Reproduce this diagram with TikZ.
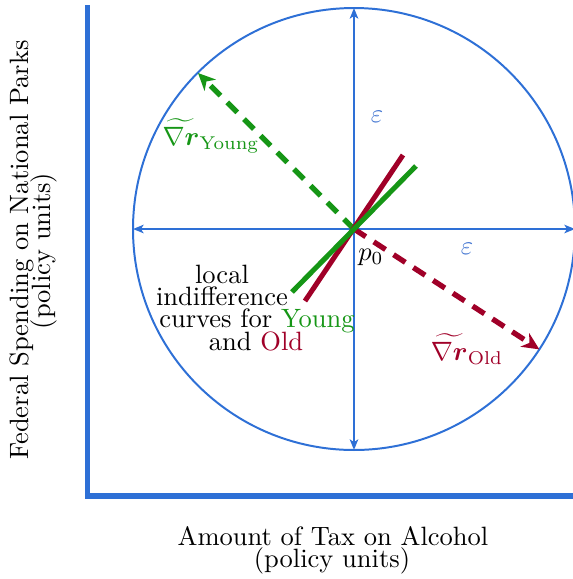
\documentclass[tikz,border=0pt]{standalone}
\usepackage{amsmath,bm}
\usetikzlibrary{arrows.meta}
\definecolor{axblue}{RGB}{46,112,214}
\definecolor{epsblue}{RGB}{70,120,210}
\definecolor{ygreen}{RGB}{22,150,22}
\definecolor{ored}{RGB}{160,0,40}
\tikzset{
  axisline/.style={axblue, line width=1.9pt},
  ballline/.style={axblue, line width=0.75pt},
  epsarrow/.style={axblue, line width=0.7pt, {Stealth[length=4pt,width=3.2pt,inset=1pt]}-{Stealth[length=4pt,width=3.2pt,inset=1pt]}},
  gradarrow/.style={line width=2pt, dash pattern=on 5.3pt off 3.6pt, -{Stealth[length=6.5pt,width=6pt,inset=2pt]}},
  indiff/.style={line width=1.9pt},
  lbl/.style={inner sep=0pt, anchor=base},
}
\begin{document}
\begin{tikzpicture}[x=0.3774pt, y=-0.3774pt]
\useasboundingbox (0,0) rectangle (573,579);
% axes
\coordinate (yaxtop) at (87.5,5);
\coordinate (origin) at (87.5,496);
\coordinate (xaxend) at (580,496);
\draw[axisline] (yaxtop) -- (origin) -- (xaxend);
% ball
\coordinate (c) at (354,229);
\coordinate (top) at (354,8);
\coordinate (bot) at (354,450);
\coordinate (lft) at (133,229);
\coordinate (rgt) at (575,229);
\draw[ballline] (c) circle[radius=221];
\draw[epsarrow] (bot) -- (top);
\draw[epsarrow] (lft) -- (rgt);
% gradients
\coordinate (gtip) at (198,73);
\coordinate (rtip) at (539.4,349.4);
\draw[gradarrow, ygreen] (c) -- (gtip);
\draw[gradarrow, ored] (c) -- (rtip);
% indifference curves
\coordinate (ra) at (305,301);
\coordinate (rb) at (403,155);
\coordinate (ga) at (292,292);
\coordinate (gb) at (416,166);
\draw[indiff, ored] (ra) -- (rb);
\draw[indiff, ygreen] (ga) -- (gb);
% labels
\node[epsblue] (eps1) at (377,117) {$\varepsilon$};
\node[epsblue] (eps2) at (467,249) {$\varepsilon$};
\node (p0) at (371,257) {$p_0$};
\node[ygreen] (gy) at (211,136) {$\widetilde{\nabla \bm{r}}_{\text{Young}}$};
\node[ored] (go) at (467,349) {$\widetilde{\nabla \bm{r}}_{\text{Old}}$};
\node[lbl] (l1) at (222,283) {local};
\node[lbl] (l2) at (222,305) {indifference};
\node[lbl] (l3) at (257,327) {curves for \textcolor{ygreen}{Young}};
\node[lbl] (l4) at (256,350) {and \textcolor{ored}{Old}};
\node[lbl] (xl1) at (333,545) {Amount of Tax on Alcohol};
\node[lbl] (xl2) at (332,567) {(policy units)};
\node[lbl, rotate=90] (yl1) at (28,250) {Federal Spending on National Parks};
\node[lbl, rotate=90] (yl2) at (50,251) {(policy units)};
\end{tikzpicture}
\end{document}
